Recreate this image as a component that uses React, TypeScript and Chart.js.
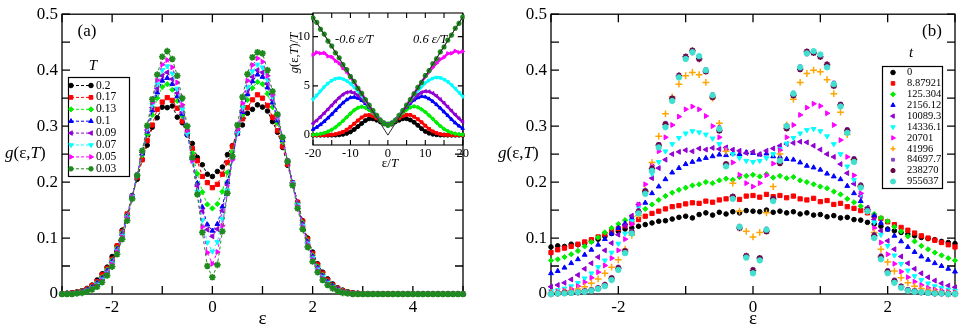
import React, { useEffect, useRef } from 'react';
import { Chart, registerables } from 'chart.js';
import { drawPoint } from 'chart.js/helpers';

Chart.register(...registerables);

const SERIF = "'Liberation Serif', 'Times New Roman', Times, serif";

// ---------------- Panel (a): g(eps,T) vs eps ----------------
const epsA = [-3,-2.9,-2.8,-2.7,-2.6,-2.5,-2.4,-2.3,-2.2,-2.1,-2,-1.9,-1.8,-1.7,-1.6,-1.5,-1.4,-1.3,-1.2,-1.1,-1,-0.9,-0.8,-0.7,-0.6,-0.5,-0.4,-0.3,-0.2,-0.1,0,0.1,0.2,0.3,0.4,0.5,0.6,0.7,0.8,0.9,1,1.1,1.2,1.3,1.4,1.5,1.6,1.7,1.8,1.9,2,2.1,2.2,2.3,2.4,2.5,2.6,2.7,2.8,2.9,3,3.1,3.2,3.3,3.4,3.5,3.6,3.7,3.8,3.9,4,4.1,4.2,4.3,4.4,4.5,4.6,4.7,4.8,4.9,5];
const tempLabels = ['0.2', '0.17', '0.13', '0.1', '0.09', '0.07', '0.05', '0.03'];

const gT020 = [0,0.001,0.002,0.004,0.006,0.010,0.016,0.025,0.036,0.048,0.067,0.086,0.114,0.141,0.176,0.205,0.240,0.266,0.298,0.315,0.334,0.333,0.336,0.316,0.306,0.284,0.269,0.244,0.231,0.214,0.210,0.219,0.227,0.249,0.265,0.290,0.302,0.323,0.330,0.338,0.334,0.327,0.308,0.289,0.262,0.230,0.198,0.164,0.131,0.100,0.075,0.054,0.039,0.027,0.018,0.011,0.007,0.004,0.002,0.001,0,0,0,0,0,0,0,0,0,0,0,0,0,0,0,0,0,0,0,0,0];
const gT017 = [0,0.001,0.002,0.003,0.005,0.009,0.015,0.022,0.034,0.046,0.062,0.086,0.111,0.143,0.174,0.209,0.240,0.274,0.302,0.330,0.343,0.351,0.346,0.332,0.309,0.290,0.260,0.238,0.210,0.199,0.190,0.196,0.214,0.235,0.264,0.287,0.313,0.333,0.347,0.356,0.350,0.337,0.316,0.292,0.264,0.232,0.199,0.164,0.130,0.098,0.072,0.052,0.037,0.025,0.016,0.010,0.006,0.003,0.002,0.001,0,0,0,0,0,0,0,0,0,0,0,0,0,0,0,0,0,0,0,0,0];
const gT013 = [0,0.001,0.001,0.003,0.005,0.008,0.013,0.020,0.030,0.043,0.060,0.082,0.109,0.140,0.175,0.211,0.248,0.285,0.320,0.350,0.370,0.375,0.365,0.345,0.318,0.287,0.252,0.215,0.182,0.160,0.153,0.161,0.183,0.217,0.254,0.289,0.320,0.347,0.368,0.379,0.375,0.358,0.334,0.305,0.272,0.236,0.199,0.162,0.127,0.095,0.069,0.049,0.034,0.023,0.015,0.009,0.005,0.003,0.001,0.001,0,0,0,0,0,0,0,0,0,0,0,0,0,0,0,0,0,0,0,0,0];
const gT010 = [0,0.001,0.001,0.002,0.004,0.007,0.012,0.019,0.028,0.041,0.058,0.080,0.107,0.139,0.175,0.212,0.251,0.290,0.328,0.360,0.381,0.386,0.375,0.353,0.322,0.285,0.243,0.198,0.155,0.124,0.113,0.125,0.156,0.200,0.245,0.287,0.325,0.357,0.380,0.392,0.388,0.369,0.342,0.310,0.275,0.237,0.199,0.161,0.125,0.093,0.067,0.047,0.032,0.022,0.014,0.008,0.004,0.002,0.001,0.001,0,0,0,0,0,0,0,0,0,0,0,0,0,0,0,0,0,0,0,0,0];
const gT009 = [0,0,0.001,0.002,0.004,0.007,0.011,0.018,0.027,0.040,0.057,0.079,0.106,0.138,0.175,0.213,0.253,0.293,0.333,0.367,0.390,0.396,0.384,0.359,0.325,0.285,0.241,0.193,0.148,0.115,0.103,0.116,0.149,0.195,0.243,0.287,0.328,0.362,0.388,0.400,0.396,0.375,0.347,0.313,0.277,0.238,0.199,0.160,0.124,0.092,0.066,0.046,0.031,0.021,0.013,0.008,0.004,0.002,0.001,0,0,0,0,0,0,0,0,0,0,0,0,0,0,0,0,0,0,0,0,0,0];
const gT007 = [0,0,0.001,0.002,0.003,0.006,0.010,0.017,0.026,0.038,0.055,0.077,0.104,0.137,0.174,0.213,0.254,0.296,0.338,0.375,0.400,0.407,0.394,0.367,0.330,0.286,0.237,0.183,0.132,0.092,0.076,0.093,0.134,0.185,0.239,0.288,0.333,0.370,0.398,0.410,0.405,0.383,0.352,0.316,0.278,0.238,0.198,0.159,0.122,0.090,0.064,0.044,0.030,0.020,0.012,0.007,0.003,0.002,0.001,0,0,0,0,0,0,0,0,0,0,0,0,0,0,0,0,0,0,0,0,0,0];
const gT005 = [0,0,0.001,0.001,0.003,0.005,0.009,0.015,0.024,0.036,0.053,0.075,0.102,0.135,0.173,0.213,0.255,0.298,0.342,0.382,0.410,0.418,0.405,0.378,0.338,0.292,0.238,0.178,0.120,0.074,0.054,0.075,0.122,0.180,0.240,0.294,0.341,0.381,0.409,0.421,0.415,0.390,0.356,0.318,0.279,0.238,0.197,0.157,0.120,0.088,0.062,0.042,0.028,0.018,0.011,0.006,0.003,0.001,0.001,0,0,0,0,0,0,0,0,0,0,0,0,0,0,0,0,0,0,0,0,0,0];
const gT003 = [0,0,0,0.001,0.002,0.004,0.008,0.013,0.021,0.033,0.049,0.071,0.098,0.131,0.170,0.212,0.256,0.301,0.348,0.392,0.424,0.434,0.420,0.390,0.350,0.300,0.244,0.178,0.110,0.050,0.030,0.052,0.112,0.180,0.246,0.302,0.352,0.393,0.423,0.432,0.430,0.400,0.362,0.321,0.280,0.237,0.194,0.153,0.116,0.084,0.058,0.039,0.025,0.016,0.010,0.005,0.002,0.001,0,0,0,0,0,0,0,0,0,0,0,0,0,0,0,0,0,0,0,0,0,0,0];

const xTicksA = [-3, -2, -1, 0, 1, 2, 3, 4, 5];
const xLabelsA = [-2, 0, 2, 4];
const yTicksG = [0, 0.05, 0.1, 0.15, 0.2, 0.25, 0.3, 0.35, 0.4, 0.45, 0.5];
const yLabelsG = [0, 0.1, 0.2, 0.3, 0.4, 0.5];

// ---------------- Inset: g/T vs eps/T ----------------
const epsOverT = [-20,-19,-18,-17,-16,-15,-14,-13,-12,-11,-10,-9,-8,-7,-6,-5,-4,-3,-2,-1,0,1,2,3,4,5,6,7,8,9,10,11,12,13,14,15,16,17,18,19,20];
const insT020 = [0,0,0,0,0,0,0.01,0.03,0.08,0.18,0.33,0.57,0.87,1.19,1.48,1.66,1.65,1.52,1.34,1.14,1.05,1.12,1.35,1.51,1.66,1.67,1.54,1.31,1.0,0.66,0.38,0.2,0.09,0.04,0.01,0.01,0,0,0,0,0];
const insT017 = [0,0,0,0.01,0.02,0.04,0.09,0.19,0.33,0.55,0.84,1.16,1.49,1.80,2.01,2.04,1.92,1.71,1.45,1.22,1.12,1.21,1.46,1.72,1.94,2.07,2.05,1.87,1.62,1.31,0.96,0.63,0.38,0.21,0.10,0.045,0.02,0.01,0,0,0];
const insT013 = [0.04,0.07,0.13,0.22,0.36,0.55,0.80,1.11,1.45,1.82,2.19,2.53,2.78,2.88,2.78,2.55,2.25,1.91,1.55,1.28,1.18,1.27,1.56,1.93,2.27,2.58,2.82,2.92,2.83,2.62,2.35,2.0,1.65,1.28,0.93,0.63,0.41,0.25,0.15,0.085,0.04];
const insT010 = [0.58,0.80,1.07,1.39,1.75,2.12,2.51,2.90,3.28,3.60,3.81,3.86,3.75,3.53,3.22,2.85,2.43,1.98,1.55,1.24,1.13,1.25,1.56,2.0,2.45,2.87,3.25,3.57,3.80,3.92,3.88,3.69,3.42,3.10,2.75,2.37,1.99,1.61,1.25,0.93,0.67];
const insT009 = [1.18,1.50,1.86,2.24,2.63,3.03,3.43,3.81,4.13,4.34,4.40,4.28,4.04,3.72,3.34,2.92,2.47,2.00,1.57,1.27,1.14,1.28,1.58,2.02,2.49,2.94,3.37,3.76,4.09,4.34,4.45,4.42,4.25,3.97,3.63,3.26,2.87,2.47,2.07,1.69,1.35];
const insT007 = [3.63,4.04,4.47,4.89,5.26,5.54,5.73,5.80,5.70,5.51,5.24,4.87,4.46,4.01,3.53,3.00,2.47,1.96,1.54,1.24,1.09,1.25,1.56,1.98,2.50,3.03,3.56,4.05,4.50,4.92,5.29,5.57,5.77,5.87,5.82,5.66,5.42,5.10,4.72,4.32,3.92];
const insT005 = [8.15,8.4,8.3,8.35,8.0,7.95,7.55,7.3,6.8,6.45,5.85,5.4,4.75,4.25,3.6,3.0,2.4,1.9,1.5,1.24,1.08,1.25,1.52,1.92,2.42,3.02,3.62,4.22,4.82,5.38,5.92,6.42,6.88,7.3,7.7,7.9,8.3,8.3,8.55,8.4,8.5];
const insT003 = [11.9,11.45,10.75,10.25,9.55,9.05,8.35,7.85,7.15,6.65,5.95,5.45,4.75,4.25,3.6,3.05,2.5,2.0,1.5,1.2,1.0,1.2,1.5,2.0,2.5,3.05,3.6,4.2,4.85,5.35,6.05,6.55,7.25,7.75,8.45,8.95,9.65,10.15,10.85,11.35,12.0];
const slopeX = [-20, 0, 20];
const slopeY = [12, 0, 12];
const insXTicks = [-20, -15, -10, -5, 0, 5, 10, 15, 20];
const insXLabels = [-20, -10, 0, 10, 20];
const insYTicks = [0, 5, 10];
const insYLabels = [0, 5, 10];

// ---------------- Panel (b): g(eps) at times t ----------------
const epsB = [-3,-2.9,-2.8,-2.7,-2.6,-2.5,-2.4,-2.3,-2.2,-2.1,-2,-1.9,-1.8,-1.7,-1.6,-1.5,-1.4,-1.3,-1.2,-1.1,-1,-0.9,-0.8,-0.7,-0.6,-0.5,-0.4,-0.3,-0.2,-0.1,0,0.1,0.2,0.3,0.4,0.5,0.6,0.7,0.8,0.9,1,1.1,1.2,1.3,1.4,1.5,1.6,1.7,1.8,1.9,2,2.1,2.2,2.3,2.4,2.5,2.6,2.7,2.8,2.9,3];
const timeLabels = ['0', '8.87921', '125.304', '2156.12', '10089.3', '14336.1', '20701', '41996', '84697.7', '238270', '955637'];

const bT0 = [0.084,0.086,0.085,0.089,0.088,0.091,0.094,0.098,0.103,0.108,0.112,0.116,0.118,0.121,0.124,0.127,0.130,0.131,0.134,0.137,0.139,0.136,0.142,0.145,0.141,0.146,0.143,0.147,0.145,0.149,0.148,0.147,0.150,0.146,0.148,0.145,0.147,0.143,0.145,0.141,0.142,0.138,0.140,0.136,0.137,0.133,0.132,0.128,0.125,0.121,0.116,0.113,0.110,0.107,0.104,0.101,0.099,0.097,0.094,0.092,0.090];
const bT1 = [0.074,0.079,0.082,0.085,0.089,0.093,0.097,0.102,0.107,0.112,0.117,0.122,0.127,0.133,0.139,0.144,0.148,0.152,0.156,0.158,0.161,0.163,0.162,0.166,0.164,0.168,0.170,0.172,0.169,0.175,0.176,0.173,0.178,0.174,0.176,0.172,0.175,0.170,0.168,0.171,0.165,0.167,0.160,0.162,0.156,0.153,0.149,0.145,0.139,0.135,0.129,0.124,0.119,0.114,0.109,0.104,0.100,0.096,0.092,0.088,0.084];
const bT2 = [0.060,0.062,0.066,0.071,0.077,0.085,0.093,0.101,0.110,0.118,0.125,0.132,0.138,0.145,0.152,0.160,0.168,0.175,0.181,0.186,0.190,0.194,0.196,0.200,0.198,0.203,0.206,0.204,0.209,0.211,0.213,0.210,0.214,0.208,0.211,0.207,0.209,0.203,0.200,0.196,0.192,0.189,0.183,0.178,0.170,0.164,0.157,0.150,0.143,0.136,0.130,0.120,0.112,0.103,0.094,0.086,0.080,0.074,0.069,0.064,0.060];
const bT3 = [0.037,0.041,0.047,0.055,0.062,0.070,0.079,0.088,0.098,0.108,0.118,0.126,0.135,0.147,0.163,0.180,0.192,0.205,0.217,0.225,0.232,0.236,0.240,0.243,0.246,0.249,0.248,0.251,0.250,0.253,0.252,0.249,0.251,0.246,0.245,0.241,0.240,0.235,0.229,0.226,0.222,0.215,0.210,0.205,0.193,0.180,0.166,0.153,0.140,0.127,0.115,0.104,0.094,0.084,0.075,0.067,0.061,0.055,0.050,0.045,0.040];
const bT4 = [0.013,0.016,0.020,0.026,0.034,0.045,0.055,0.066,0.078,0.091,0.106,0.122,0.140,0.160,0.182,0.207,0.225,0.240,0.250,0.254,0.257,0.255,0.260,0.258,0.261,0.259,0.262,0.258,0.256,0.252,0.254,0.250,0.256,0.260,0.265,0.268,0.270,0.272,0.271,0.265,0.258,0.250,0.245,0.232,0.216,0.197,0.175,0.154,0.133,0.113,0.095,0.080,0.067,0.055,0.045,0.037,0.030,0.024,0.019,0.015,0.012];
const bT5 = [0.005,0.007,0.010,0.014,0.020,0.028,0.037,0.048,0.060,0.074,0.090,0.108,0.130,0.155,0.185,0.215,0.236,0.255,0.268,0.279,0.287,0.291,0.289,0.285,0.278,0.268,0.258,0.250,0.243,0.238,0.236,0.238,0.243,0.250,0.259,0.269,0.279,0.287,0.293,0.295,0.291,0.282,0.268,0.250,0.228,0.204,0.178,0.153,0.128,0.106,0.086,0.069,0.054,0.042,0.032,0.025,0.019,0.014,0.011,0.008,0.006];
const bT6 = [0.003,0.004,0.006,0.009,0.014,0.021,0.029,0.039,0.051,0.064,0.078,0.098,0.125,0.160,0.196,0.230,0.255,0.280,0.302,0.317,0.330,0.335,0.330,0.318,0.300,0.280,0.258,0.235,0.213,0.198,0.192,0.198,0.212,0.233,0.257,0.280,0.302,0.320,0.333,0.340,0.336,0.323,0.302,0.275,0.245,0.212,0.180,0.148,0.118,0.092,0.071,0.054,0.040,0.030,0.022,0.016,0.011,0.008,0.006,0.004,0.003];
const bT7 = [0.002,0.003,0.004,0.006,0.009,0.013,0.019,0.027,0.037,0.048,0.061,0.080,0.105,0.140,0.185,0.235,0.282,0.322,0.352,0.375,0.390,0.396,0.392,0.378,0.350,0.305,0.255,0.198,0.148,0.112,0.102,0.110,0.145,0.192,0.250,0.302,0.348,0.378,0.394,0.400,0.397,0.383,0.358,0.325,0.285,0.240,0.192,0.148,0.110,0.080,0.057,0.041,0.029,0.020,0.014,0.010,0.007,0.005,0.003,0.002,0.001];
const bT8 = [0.001,0.001,0.002,0.003,0.004,0.006,0.008,0.012,0.018,0.030,0.049,0.079,0.113,0.150,0.186,0.227,0.268,0.306,0.351,0.392,0.422,0.430,0.423,0.402,0.357,0.298,0.230,0.172,0.122,0.067,0.045,0.062,0.117,0.168,0.240,0.302,0.360,0.407,0.428,0.432,0.426,0.407,0.378,0.340,0.295,0.243,0.196,0.154,0.107,0.069,0.043,0.026,0.015,0.009,0.006,0.004,0.003,0.002,0.001,0.001,0.001];
const bT9 = [0,0.001,0.002,0.002,0.003,0.005,0.007,0.010,0.016,0.028,0.046,0.076,0.110,0.147,0.183,0.224,0.266,0.303,0.349,0.390,0.424,0.435,0.420,0.398,0.352,0.292,0.232,0.174,0.118,0.068,0.042,0.064,0.112,0.170,0.234,0.296,0.355,0.402,0.433,0.431,0.424,0.410,0.372,0.338,0.292,0.240,0.193,0.151,0.104,0.066,0.040,0.023,0.013,0.007,0.005,0.003,0.002,0.001,0.001,0,0];
const bT10 = [0,0.001,0.001,0.002,0.003,0.004,0.006,0.009,0.014,0.025,0.043,0.073,0.108,0.144,0.179,0.220,0.262,0.298,0.345,0.387,0.420,0.432,0.425,0.400,0.355,0.295,0.228,0.170,0.120,0.065,0.037,0.060,0.115,0.166,0.238,0.300,0.358,0.405,0.430,0.434,0.428,0.405,0.375,0.335,0.288,0.236,0.190,0.148,0.100,0.062,0.037,0.020,0.011,0.006,0.004,0.003,0.002,0.001,0.001,0,0];

const xTicksB = [-3, -2, -1, 0, 1, 2, 3];
const xLabelsB = [-2, 0, 2];

// ---------------- styles ----------------
const seriesA = [gT020, gT017, gT013, gT010, gT009, gT007, gT005, gT003];
const insetSeries = [insT020, insT017, insT013, insT010, insT009, insT007, insT005, insT003];
const styleA = [
  { c: '#000000', ps: 'circle', rot: 0, r: 2.3, bw: 1 },
  { c: '#ff0000', ps: 'rect', rot: 0, r: 3.0, bw: 1 },
  { c: '#00ee00', ps: 'rectRot', rot: 0, r: 2.6, bw: 1 },
  { c: '#0000ff', ps: 'triangle', rot: 0, r: 2.8, bw: 1 },
  { c: '#9400d3', ps: 'triangle', rot: -90, r: 2.8, bw: 1 },
  { c: '#00ffff', ps: 'triangle', rot: 180, r: 2.8, bw: 1 },
  { c: '#ff00ff', ps: 'triangle', rot: 90, r: 2.8, bw: 1 },
  { c: '#1e8b1e', ps: 'star', rot: 0, r: 3.3, bw: 1.7 },
];
const seriesB = [bT0, bT1, bT2, bT3, bT4, bT5, bT6, bT7, bT8, bT9, bT10];
const styleB = [
  { c: '#000000', ps: 'circle', rot: 0, r: 2.3, bw: 1 },
  { c: '#ff0000', ps: 'rect', rot: 0, r: 3.0, bw: 1 },
  { c: '#00ee00', ps: 'rectRot', rot: 0, r: 2.6, bw: 1 },
  { c: '#0000ff', ps: 'triangle', rot: 0, r: 2.8, bw: 1 },
  { c: '#9400d3', ps: 'triangle', rot: -90, r: 2.8, bw: 1 },
  { c: '#00ffff', ps: 'triangle', rot: 180, r: 2.8, bw: 1 },
  { c: '#ff00ff', ps: 'triangle', rot: 90, r: 2.8, bw: 1 },
  { c: '#ffa500', ps: 'cross', rot: 0, r: 3.4, bw: 1.5 },
  { c: '#8a3fd1', ps: 'rect', rot: 0, r: 2.0, bw: 1 },
  { c: '#670748', ps: 'star', rot: 0, r: 3.2, bw: 1.7 },
  { c: '#40e0d0', ps: 'circle', rot: 0, r: 2.7, bw: 1 },
];

// ---------------- helpers ----------------
type Seg = { t: string; i?: boolean };

function drawSegs(ctx: CanvasRenderingContext2D, segs: Seg[], x: number, y: number, size: number, align: 'left' | 'center' | 'right' = 'left') {
  const fonts = segs.map((s) => `${s.i ? 'italic ' : ''}${size}px ${SERIF}`);
  const widths = segs.map((s, k) => { ctx.font = fonts[k]; return ctx.measureText(s.t).width; });
  const total = widths.reduce((p, w) => p + w, 0);
  let cx = align === 'left' ? x : align === 'center' ? x - total / 2 : x - total;
  ctx.textAlign = 'left';
  ctx.textBaseline = 'middle';
  ctx.fillStyle = '#000';
  segs.forEach((s, k) => { ctx.font = fonts[k]; ctx.fillText(s.t, cx, y); cx += widths[k]; });
}

const G_LABEL: Seg[] = [{ t: 'g', i: true }, { t: '(ε,' }, { t: 'T', i: true }, { t: ')' }];

function near(list: number[], v: number) {
  return list.some((l) => Math.abs(l - v) < 1e-9);
}

function makeAxis(min: number, max: number, ticks: number[], labels: number[], fontSize: number, padding: number, fit: (s: any) => void, title?: any) {
  return {
    type: 'linear',
    min,
    max,
    afterBuildTicks: (s: any) => { s.ticks = ticks.map((v) => ({ value: v })); },
    afterFit: fit,
    grid: { display: false, drawTicks: false },
    border: { display: false },
    ticks: {
      autoSkip: false,
      maxRotation: 0,
      minRotation: 0,
      padding,
      color: '#000',
      font: { family: SERIF, size: fontSize },
      callback: (v: number) => (near(labels, v) ? String(v) : ''),
    },
    title: title || { display: false },
  };
}

function frameTicks(len: number, lw: number, fillWhite = false) {
  return {
    id: 'frameTicks',
    beforeDatasetsDraw(chart: any) {
      const { ctx, chartArea: a } = chart;
      const xs = chart.scales.x;
      const ys = chart.scales.y;
      ctx.save();
      if (fillWhite) {
        ctx.fillStyle = '#fff';
        ctx.fillRect(a.left, a.top, a.right - a.left, a.bottom - a.top);
      }
      ctx.strokeStyle = '#000';
      ctx.lineWidth = lw;
      ctx.beginPath();
      for (const t of xs.ticks) {
        const p = xs.getPixelForValue(t.value);
        ctx.moveTo(p, a.bottom); ctx.lineTo(p, a.bottom - len);
        ctx.moveTo(p, a.top); ctx.lineTo(p, a.top + len);
      }
      for (const t of ys.ticks) {
        const p = ys.getPixelForValue(t.value);
        ctx.moveTo(a.left, p); ctx.lineTo(a.left + len, p);
        ctx.moveTo(a.right, p); ctx.lineTo(a.right - len, p);
      }
      ctx.stroke();
      ctx.strokeRect(a.left, a.top, a.right - a.left, a.bottom - a.top);
      ctx.restore();
    },
  };
}

function marker(ctx: CanvasRenderingContext2D, st: any, x: number, y: number, r: number) {
  ctx.fillStyle = st.c;
  ctx.strokeStyle = st.c;
  ctx.lineWidth = st.bw;
  ctx.setLineDash([]);
  drawPoint(ctx, { pointStyle: st.ps, rotation: st.rot, radius: r, borderWidth: st.bw } as any, x, y);
}

const legendA = {
  id: 'legendA',
  afterDraw(chart: any) {
    const ctx: CanvasRenderingContext2D = chart.ctx;
    ctx.save();
    ctx.fillStyle = '#fff';
    ctx.fillRect(68, 77, 61, 99);
    ctx.strokeStyle = '#000';
    ctx.lineWidth = 1.2;
    ctx.strokeRect(68.5, 77.5, 61, 99);
    drawSegs(ctx, [{ t: 'T', i: true }], 93, 66, 15, 'center');
    tempLabels.forEach((lab, i) => {
      const y = 85.5 + i * 11.9;
      const st = styleA[i];
      ctx.strokeStyle = st.c;
      ctx.lineWidth = 1;
      ctx.setLineDash([3, 2]);
      ctx.beginPath(); ctx.moveTo(71, y); ctx.lineTo(91, y); ctx.stroke();
      marker(ctx, st, 71, y, Math.min(st.r, 2.6));
      marker(ctx, st, 91, y, Math.min(st.r, 2.6));
      drawSegs(ctx, [{ t: lab }], 96, y, 11.5, 'left');
    });
    ctx.restore();
  },
};

const textsA = {
  id: 'textsA',
  afterDraw(chart: any) {
    const ctx: CanvasRenderingContext2D = chart.ctx;
    ctx.save();
    drawSegs(ctx, G_LABEL, 5, 154, 17, 'left');
    drawSegs(ctx, [{ t: '(a)' }], 87, 32, 17, 'center');
    ctx.restore();
  },
};

const legendB = {
  id: 'legendB',
  afterDraw(chart: any) {
    const ctx: CanvasRenderingContext2D = chart.ctx;
    ctx.save();
    ctx.fillStyle = '#fff';
    ctx.fillRect(402, 66, 60, 122);
    ctx.strokeStyle = '#000';
    ctx.lineWidth = 1.2;
    ctx.strokeRect(402.5, 66.5, 60, 122);
    drawSegs(ctx, [{ t: 't', i: true }], 431, 53, 15, 'center');
    drawSegs(ctx, G_LABEL, 18, 154, 17, 'left');
    drawSegs(ctx, [{ t: '(b)' }], 452, 32, 17, 'center');
    timeLabels.forEach((lab, i) => {
      const y = 72.5 + i * 10.9;
      const st = styleB[i];
      marker(ctx, st, 413, y, Math.min(st.r, 2.5));
      drawSegs(ctx, [{ t: lab }], 427, y, 10.5, 'left');
    });
    ctx.restore();
  },
};

const textsInset = {
  id: 'textsInset',
  afterDraw(chart: any) {
    const ctx: CanvasRenderingContext2D = chart.ctx;
    ctx.save();
    drawSegs(ctx, [{ t: '-0.6 ε/T', i: true }], 55, 40, 12.5, 'left');
    drawSegs(ctx, [{ t: '0.6 ε/T', i: true }], 133, 40, 12.5, 'left');
    drawSegs(ctx, [{ t: 'ε/' }, { t: 'T', i: true }], 110, 164, 13, 'center');
    ctx.translate(15, 53);
    ctx.rotate(-Math.PI / 2);
    drawSegs(ctx, [{ t: 'g', i: true }, { t: '(ε,' }, { t: 'T', i: true }, { t: ')/' }, { t: 'T', i: true }], 0, 0, 12.5, 'center');
    ctx.restore();
  },
};

function baseOptions(padding: any, scales: any) {
  return {
    responsive: false,
    maintainAspectRatio: false,
    animation: false,
    devicePixelRatio: 1,
    events: [],
    layout: { padding },
    plugins: { legend: { display: false }, tooltip: { enabled: false } },
    scales,
  };
}

export default function App() {
  const refA = useRef<HTMLCanvasElement>(null);
  const refB = useRef<HTMLCanvasElement>(null);
  const refI = useRef<HTMLCanvasElement>(null);

  useEffect(() => {
    Chart.defaults.font.family = SERIF;
    Chart.defaults.color = '#000';
    const charts: Chart[] = [];

    // ---- panel (a)
    const dsA = seriesA.map((ys, i) => {
      const st = styleA[i];
      return {
        label: tempLabels[i],
        data: epsA.map((x, k) => ({ x, y: ys[k] })),
        showLine: true,
        borderColor: st.c,
        backgroundColor: st.c,
        borderWidth: 1,
        borderDash: [3, 3],
        pointStyle: st.ps,
        pointRotation: st.rot,
        pointRadius: st.r,
        pointBorderWidth: st.bw,
        pointBackgroundColor: st.c,
        pointBorderColor: st.c,
        order: seriesA.length - 1 - i,
        clip: 6,
      };
    });
    const xTitleA = { display: true, text: 'ε', color: '#000', font: { family: SERIF, size: 19 }, padding: { top: 0, bottom: 3 } };
    charts.push(new Chart(refA.current as HTMLCanvasElement, {
      type: 'scatter',
      data: { datasets: dsA },
      options: baseOptions({ left: 0, top: 13, right: 17, bottom: 0 }, {
        x: makeAxis(-3, 5, xTicksA, xLabelsA, 17, 3, (s: any) => { s.height = 39; }, xTitleA),
        y: makeAxis(0, 0.5, yTicksG, yLabelsG, 17, 4, (s: any) => { s.width = 62; }),
      }),
      plugins: [frameTicks(8, 1.3), textsA, legendA],
    } as any));

    // ---- inset
    const dsI: any[] = insetSeries.map((ys, i) => {
      const st = styleA[i];
      const last = i === insetSeries.length - 1;
      return {
        label: tempLabels[i],
        data: epsOverT.map((x, k) => ({ x, y: ys[k] })),
        showLine: true,
        borderColor: last ? '#1e5e1e' : st.c,
        backgroundColor: st.c,
        borderWidth: last ? 1 : 2.5,
        pointStyle: st.ps,
        pointRotation: st.rot,
        pointRadius: last ? 2.6 : 2.0,
        pointBorderWidth: st.bw,
        pointBackgroundColor: st.c,
        pointBorderColor: st.c,
        order: insetSeries.length - i,
        clip: 2,
      };
    });
    dsI.push({
      label: '0.6 ε/T',
      data: slopeX.map((x, k) => ({ x, y: slopeY[k] })),
      showLine: true,
      borderColor: '#2a2a2a',
      borderWidth: 1,
      pointRadius: 0,
      order: 0,
      clip: 1,
    });
    charts.push(new Chart(refI.current as HTMLCanvasElement, {
      type: 'scatter',
      data: { datasets: dsI },
      options: baseOptions({ left: 0, top: 13, right: 7, bottom: 0 }, {
        x: makeAxis(-20, 20, insXTicks, insXLabels, 12.5, 1, (s: any) => { s.height = 30; }),
        y: makeAxis(-1, 12.4, insYTicks, insYLabels, 12.5, 3, (s: any) => { s.width = 33; }),
      }),
      plugins: [frameTicks(5, 1.1, true), textsInset],
    } as any));

    // ---- panel (b)
    const dsB = seriesB.map((ys, i) => {
      const st = styleB[i];
      return {
        label: timeLabels[i],
        data: epsB.map((x, k) => ({ x, y: ys[k] })),
        showLine: false,
        backgroundColor: st.c,
        borderColor: st.c,
        pointStyle: st.ps,
        pointRotation: st.rot,
        pointRadius: st.r,
        pointBorderWidth: st.bw,
        pointBackgroundColor: st.c,
        pointBorderColor: st.c,
        order: seriesB.length - 1 - i,
        clip: 6,
      };
    });
    charts.push(new Chart(refB.current as HTMLCanvasElement, {
      type: 'scatter',
      data: { datasets: dsB },
      options: baseOptions({ left: 0, top: 13, right: 13, bottom: 0 }, {
        x: makeAxis(-3, 3, xTicksB, xLabelsB, 17, 3, (s: any) => { s.height = 39; }, xTitleA),
        y: makeAxis(0, 0.5, yTicksG, yLabelsG, 17, 4, (s: any) => { s.width = 71; }),
      }),
      plugins: [frameTicks(8, 1.3), legendB],
    } as any));

    return () => charts.forEach((c) => c.destroy());
  }, []);

  return (
    <div style={{ position: 'fixed', left: 0, top: 0, width: 968, height: 333, background: '#fff', overflow: 'hidden' }}>
      <canvas ref={refA} width={480} height={333} style={{ position: 'absolute', left: 0, top: 0, width: 480, height: 333 }} />
      <canvas ref={refB} width={488} height={333} style={{ position: 'absolute', left: 480, top: 0, width: 488, height: 333 }} />
      <canvas ref={refI} width={190} height={175} style={{ position: 'absolute', left: 280, top: 0, width: 190, height: 175 }} />
    </div>
  );
}
